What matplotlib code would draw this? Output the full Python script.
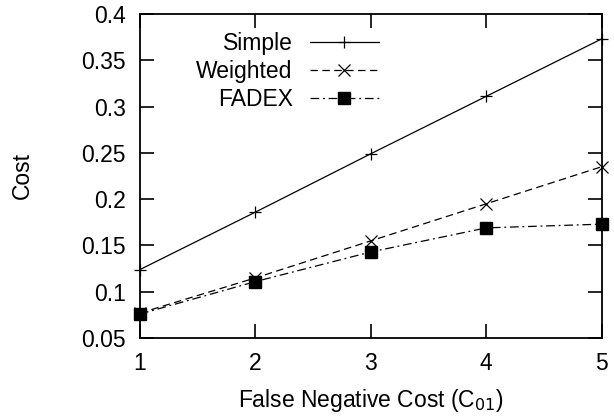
import matplotlib
matplotlib.use("Agg")
import matplotlib.pyplot as plt

plt.rcParams['font.family'] = ['Liberation Sans', 'DejaVu Sans']

# data
cost_c01 = [1, 2, 3, 4, 5]
simple = [0.124, 0.186, 0.249, 0.311, 0.373]
weighted = [0.077, 0.115, 0.155, 0.195, 0.235]
fadex = [0.076, 0.111, 0.143, 0.169, 0.173]

fig = plt.figure(figsize=(6.14, 4.2), dpi=100)
ax = fig.add_axes([0.228, 0.195, 0.752, 0.772])

ax.plot(cost_c01, simple, color='black', lw=0.9, marker='+', ms=9, mew=0.9,
        label='Simple', clip_on=False)
ax.plot(cost_c01, weighted, color='black', lw=0.9, ls=(0, (6, 3.5)), marker='x', ms=8,
        mew=0.9, label='Weighted', clip_on=False)
ax.plot(cost_c01, fadex, color='black', lw=0.9, ls=(0, (7, 3, 1.5, 3)), marker='s', ms=8,
        label='FADEX', clip_on=False)

ax.set_xlim(1, 5)
ax.set_ylim(0.05, 0.4)
ax.set_xticks([1, 2, 3, 4, 5])
ax.set_yticks([0.05, 0.1, 0.15, 0.2, 0.25, 0.3, 0.35, 0.4])
ax.set_yticklabels(['0.05', '0.1', '0.15', '0.2', '0.25', '0.3', '0.35', '0.4'])
ax.tick_params(direction='in', top=True, right=True, length=10, width=1.2,
               labelsize=16.5, pad=10)
for s in ax.spines.values():
    s.set_linewidth(1.3)

ax.set_xlabel('False Negative Cost (C$_{01}$)', fontsize=16.5, labelpad=9)
ax.set_ylabel('Cost', fontsize=16.5, labelpad=34)

ax.legend(loc='upper right', bbox_to_anchor=(0.517, 0.945), frameon=False,
          markerfirst=False, fontsize=16.5, handlelength=3.0, handletextpad=0.75,
          labelspacing=0.22, borderpad=0, borderaxespad=0)

fig.savefig('out.png', dpi=100)
